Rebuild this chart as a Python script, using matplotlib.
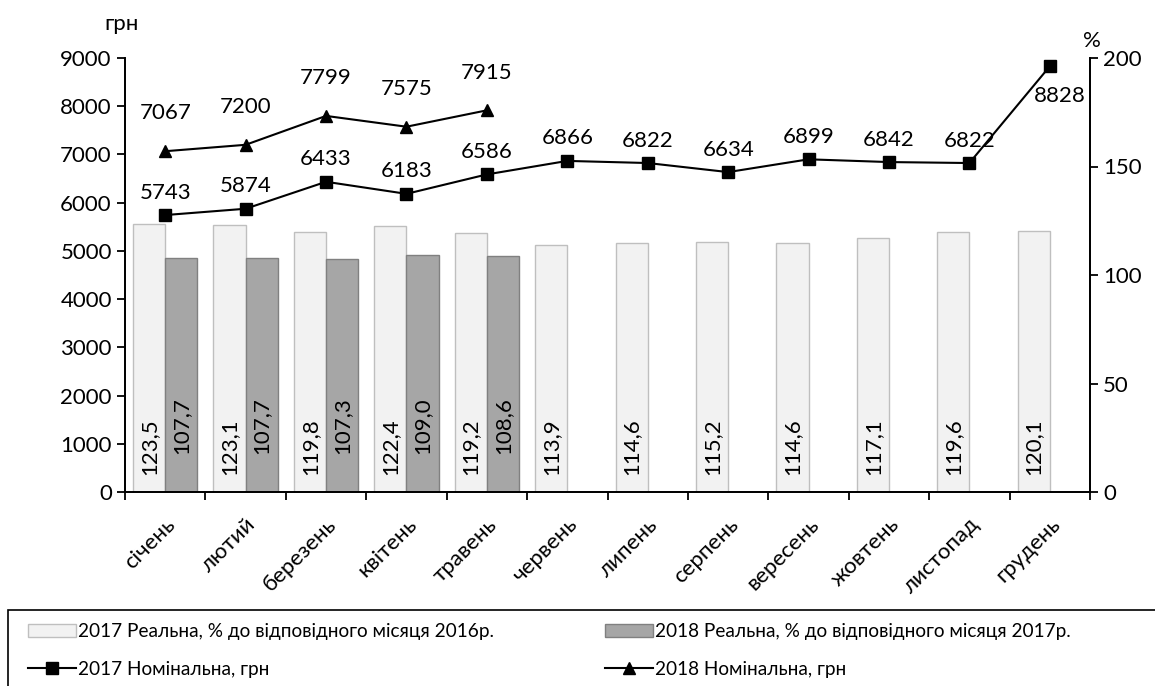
import matplotlib.pyplot as plt
from matplotlib.patches import Rectangle
from matplotlib.transforms import ScaledTranslation
import numpy as np

plt.rcParams['font.family'] = ['Lato', 'DejaVu Sans']

months = ['січень', 'лютий', 'березень', 'квітень', 'травень', 'червень',
          'липень', 'серпень', 'вересень', 'жовтень', 'листопад', 'грудень']
real_2017 = [123.5, 123.1, 119.8, 122.4, 119.2, 113.9, 114.6, 115.2, 114.6, 117.1, 119.6, 120.1]
real_2018 = [107.7, 107.7, 107.3, 109.0, 108.6]
nom_2017 = [5743, 5874, 6433, 6183, 6586, 6866, 6822, 6634, 6899, 6842, 6822, 8828]
nom_2018 = [7067, 7200, 7799, 7575, 7915]

W, H = 1155, 686
fig = plt.figure(figsize=(W / 100, H / 100), dpi=100)
ax = fig.add_axes([125 / W, 1 - 492 / H, 965 / W, 434 / H])
ax2 = ax.twinx()

fs = 16
x = np.arange(len(months))
x18 = np.arange(len(real_2018))
w = 0.4

b17 = ax2.bar(x - w / 2, real_2017, w, color='#f2f2f2', edgecolor='#bfbfbf', linewidth=1)
b18 = ax2.bar(x18 + w / 2, real_2018, w, color='#a6a6a6', edgecolor='#808080', linewidth=1)
for xi, v in zip(x, real_2017):
    ax2.text(xi - w / 2, 21, f'{v:.1f}'.replace('.', ','), rotation=90,
             ha='center', va='center', fontsize=fs)
for xi, v in zip(x18, real_2018):
    ax2.text(xi + w / 2, 30.5, f'{v:.1f}'.replace('.', ','), rotation=90,
             ha='center', va='center', fontsize=fs)

ax.set_zorder(ax2.get_zorder() + 1)
ax.patch.set_visible(False)

l17, = ax.plot(x, nom_2017, color='black', lw=1.5, marker='s', ms=8)
l18, = ax.plot(x18, nom_2018, color='black', lw=1.5, marker='^', ms=9)
for xi, v in zip(x, nom_2017):
    if xi == 11:
        ax.annotate(str(v), (xi, v), xytext=(7, -14), textcoords='offset points',
                    ha='center', va='top', fontsize=fs)
    else:
        ax.annotate(str(v), (xi, v), xytext=(0, 9), textcoords='offset points',
                    ha='center', va='bottom', fontsize=fs)
for xi, v in zip(x18, nom_2018):
    ax.annotate(str(v), (xi, v), xytext=(0, 20), textcoords='offset points',
                ha='center', va='bottom', fontsize=fs)

ax.set_xlim(-0.5, 11.5)
ax.set_ylim(0, 9000)
ax.set_yticks(range(0, 9001, 1000))
ax2.set_ylim(0, 200)
ax2.set_yticks(range(0, 201, 50))

ax.set_xticks(np.arange(-0.5, 12, 1))
ax.set_xticklabels([])
ax.set_xticks(x, minor=True)
ax.set_xticklabels(months, minor=True, rotation=45, ha='right',
                   rotation_mode='anchor', fontsize=fs)
shift = ScaledTranslation(-8 / 100, 0, fig.dpi_scale_trans)
for lab in ax.get_xticklabels(minor=True):
    lab.set_transform(lab.get_transform() + shift)
ax.tick_params(axis='x', which='minor', length=0, pad=16)
ax.tick_params(axis='x', which='major', length=6, width=1.3, direction='out')
ax.tick_params(axis='y', labelsize=fs, length=6, width=1.3)
ax2.tick_params(axis='y', labelsize=fs, length=6, width=1.3)

for a in (ax, ax2):
    a.spines['top'].set_visible(False)
    for s in ('left', 'right', 'bottom'):
        a.spines[s].set_linewidth(1.3)

fig.text(122 / W, 1 - 24 / H, 'грн', fontsize=fs, ha='center', va='center')
fig.text(1092 / W, 1 - 41 / H, '%', fontsize=fs, ha='center', va='center')

fig.patches.append(Rectangle((8 / W, -0.01), 1.01, (H - 610) / H + 0.01,
                             transform=fig.transFigure, fill=False,
                             edgecolor='black', lw=1.2))
lfs = 13.7
top = 1 - 623 / H
fig.legend([b17, l17],
           ['2017 Реальна, % до відповідного місяця 2016р.', '2017 Номінальна, грн'],
           loc='upper left', bbox_to_anchor=(28 / W, top),
           frameon=False, fontsize=lfs, handlelength=2.5, handletextpad=0.15,
           labelspacing=1.1, borderpad=0, borderaxespad=0)
fig.legend([b18, l18],
           ['2018 Реальна, % до відповідного місяця 2017р.', '2018 Номінальна, грн'],
           loc='upper left', bbox_to_anchor=(605 / W, top),
           frameon=False, fontsize=lfs, handlelength=2.5, handletextpad=0.15,
           labelspacing=1.1, borderpad=0, borderaxespad=0)

fig.savefig('out.png', dpi=100)
